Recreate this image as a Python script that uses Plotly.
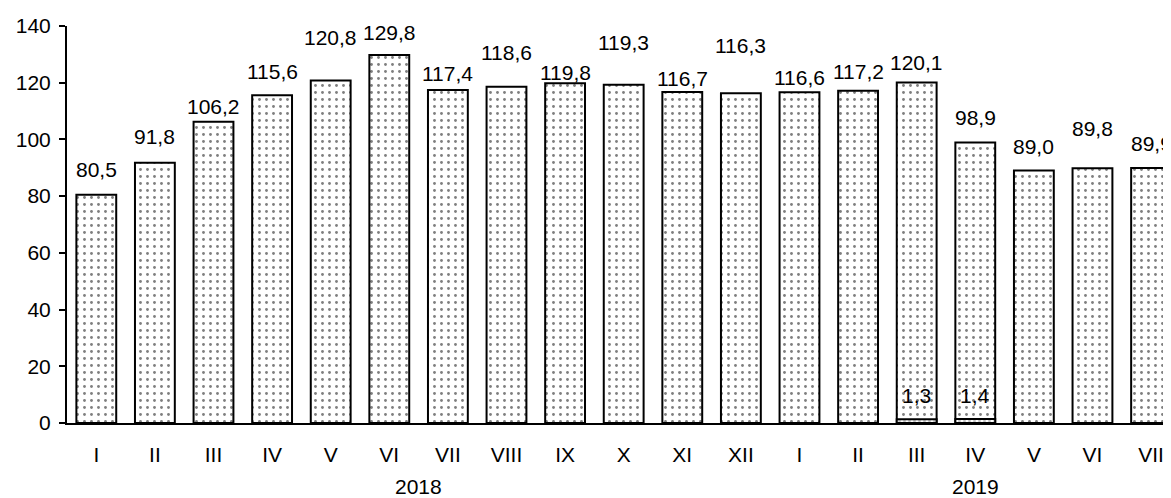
import plotly.graph_objects as go

# ---- data ----
years = ["2018"] * 12 + ["2019"] * 7
months = ["I", "II", "III", "IV", "V", "VI", "VII", "VIII", "IX", "X", "XI", "XII",
          "I", "II", "III", "IV", "V", "VI", "VII"]
values = [80.5, 91.8, 106.2, 115.6, 120.8, 129.8, 117.4, 118.6, 119.8, 119.3, 116.7, 116.3,
          116.6, 117.2, 120.1, 98.9, 89.0, 89.8, 89.9]
small_values = [None] * 14 + [1.3, 1.4] + [None] * 3
year_labels = ["2018", "2019"]

# label vertical offsets (pixels above value) — styling only
label_shift = [25, 26, 15, 24, 43, 22, 17, 34, 11, 42, 14, 48, 15, 19, 20, 25, 24, 40, 25]
small_shift = 24

FONT = "Liberation Sans, Arial, sans-serif"

def fmt(v):
    return f"{v:.1f}".replace(".", ",")

# unique category keys (month + year), displayed as month only
cats = [f"{m} {y}" for m, y in zip(months, years)]

fig = go.Figure()
fig.add_trace(go.Bar(
    x=cats, y=values,
    marker=dict(color="white", line=dict(color="black", width=2),
                pattern=dict(shape=".", fgcolor="black", bgcolor="white", size=7, solidity=0.13)),
    hoverinfo="skip",
))
fig.add_trace(go.Bar(
    x=cats, y=small_values,
    marker=dict(color="white", line=dict(color="black", width=2),
                pattern=dict(shape="|", fgcolor="#888888", bgcolor="white", size=5, solidity=0.5)),
    hoverinfo="skip",
))

annotations = []
for i, v in enumerate(values):
    annotations.append(dict(x=cats[i], y=v, xref="x", yref="y", text=fmt(v), showarrow=False,
                            yanchor="middle", xanchor="center", yshift=label_shift[i],
                            font=dict(family=FONT, size=21, color="black")))
for i, v in enumerate(small_values):
    if v is not None:
        annotations.append(dict(x=cats[i], y=v, xref="x", yref="y", text=fmt(v), showarrow=False,
                                yanchor="middle", xanchor="center", yshift=small_shift,
                                font=dict(family=FONT, size=21, color="black")))

# year labels centred under each year's group of months
for yl in year_labels:
    idx = [i for i, y in enumerate(years) if y == yl]
    centre = (idx[0] + idx[-1]) / 2
    annotations.append(dict(x=centre, y=-0.161, xref="x", yref="paper", text=yl,
                            showarrow=False, yanchor="middle", xanchor="center",
                            font=dict(family=FONT, size=21, color="black")))

# page body has an 8px default margin, so the figure is 8px smaller
fig.update_layout(
    width=1163, height=490,
    margin=dict(l=59, r=0, t=18, b=75),
    plot_bgcolor="white", paper_bgcolor="white",
    font=dict(family=FONT, size=21, color="black"),
    showlegend=False, barmode="overlay", bargap=0.32,
    annotations=annotations,
)
fig.update_yaxes(range=[0, 140], dtick=20, ticks="outside", ticklen=6, tickwidth=2,
                 tickcolor="black", showline=True, linewidth=2, linecolor="black",
                 showgrid=False, zeroline=False, ticklabelstandoff=4)
fig.update_xaxes(type="category", range=[-0.5, 18.34], showline=True, linewidth=2,
                 linecolor="black", ticks="", showgrid=False,
                 tickmode="array", tickvals=cats, ticktext=months,
                 ticklabelstandoff=12)

fig.write_html("out.html")
